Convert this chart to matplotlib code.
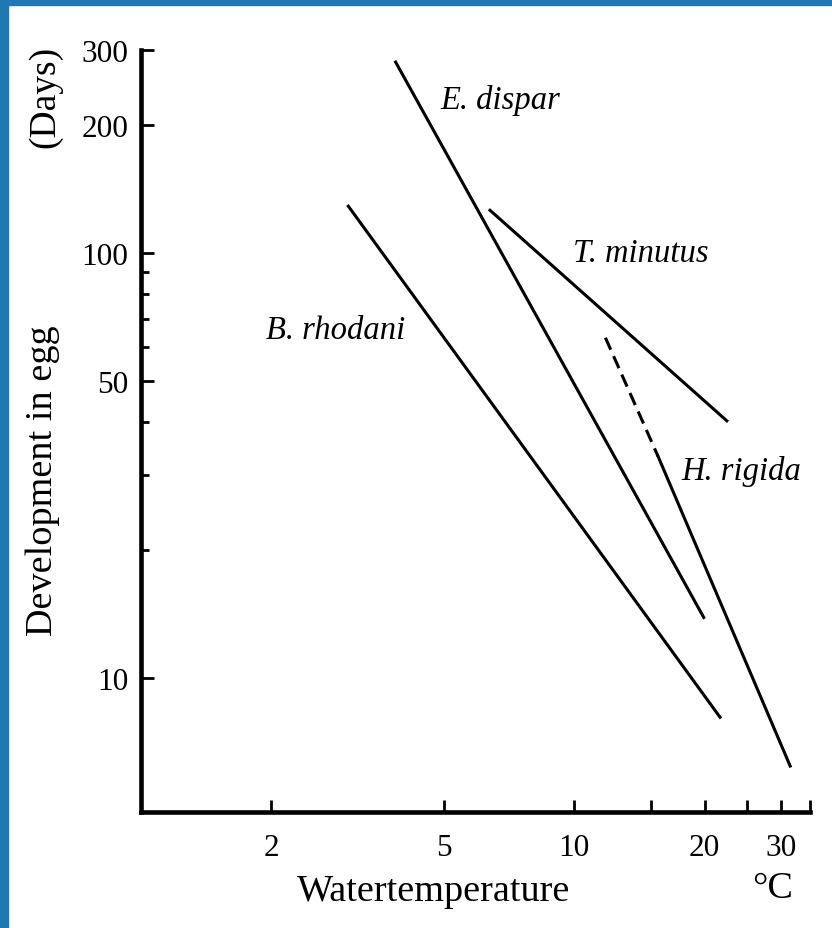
import matplotlib
matplotlib.use('Agg')
import matplotlib.pyplot as plt
from matplotlib.patches import Rectangle
from matplotlib.ticker import FixedLocator, NullFormatter

# temperature (C) / days at the line ends
e_dispar_t = [3.87, 19.9]
e_dispar_d = [281, 13.9]
b_rhodani_t = [3.01, 21.7]
b_rhodani_d = [128.8, 8.1]
t_minutus_t = [6.39, 22.5]
t_minutus_d = [126, 40.3]
h_rigida_dash_t = [11.8, 15.6]
h_rigida_dash_d = [63.2, 33.3]
h_rigida_t = [15.6, 31.5]
h_rigida_d = [33.3, 6.22]

x_ticks = [2, 5, 10, 15, 20, 25, 30, 35]
x_labels = ['2', '5', '10', '', '20', '', '30', '']
y_major = [10, 50, 100, 200, 300]
y_minor = [20, 30, 40, 60, 70, 80, 90]

# species name -> (temperature, days) where the label starts
labels = {
    'E. dispar': (4.9, 229),
    'T. minutus': (9.95, 100),
    'B. rhodani': (1.94, 66),
    'H. rigida': (17.7, 30.8),
}

SERIF = 'Liberation Serif'


def draw():
    fig = plt.figure(figsize=(8.32, 9.29), dpi=100)
    ax = fig.add_axes([141 / 832, 1 - 813 / 929, (810 - 141) / 832, (813 - 51) / 929])

    # blue frame on the left and top edge
    fig.patches.append(Rectangle((0, 0), 8 / 832, 1, transform=fig.transFigure,
                                 color='#1f77b4', zorder=10))
    fig.patches.append(Rectangle((0, 1 - 6 / 929), 1, 6 / 929, transform=fig.transFigure,
                                 color='#1f77b4', zorder=10))

    lw = 2.2
    ax.plot(e_dispar_t, e_dispar_d, 'k-', lw=lw)
    ax.plot(b_rhodani_t, b_rhodani_d, 'k-', lw=lw)
    ax.plot(t_minutus_t, t_minutus_d, 'k-', lw=lw)
    ax.plot(h_rigida_dash_t, h_rigida_dash_d, 'k', lw=lw, linestyle=(0, (4.3, 2.3)))
    ax.plot(h_rigida_t, h_rigida_d, 'k-', lw=lw)

    ax.set_xscale('log')
    ax.set_yscale('log')
    ax.set_xlim(1, 35)
    ax.set_ylim(4.85, 300)

    for s in ['top', 'right']:
        ax.spines[s].set_visible(False)
    for s in ['left', 'bottom']:
        ax.spines[s].set_linewidth(3.3)

    ax.xaxis.set_major_locator(FixedLocator(x_ticks))
    ax.xaxis.set_minor_locator(FixedLocator([]))
    ax.set_xticks(x_ticks)
    ax.set_xticklabels(x_labels, fontfamily=SERIF, fontsize=22.5)
    ax.tick_params(axis='x', which='major', direction='in', length=9, width=2, pad=15)

    ax.yaxis.set_major_locator(FixedLocator(y_major))
    ax.yaxis.set_minor_locator(FixedLocator(y_minor))
    ax.yaxis.set_minor_formatter(NullFormatter())
    ax.set_yticks(y_major)
    ax.set_yticklabels([str(v) for v in y_major], fontfamily=SERIF, fontsize=22.5)
    ax.tick_params(axis='y', which='major', direction='in', length=9, width=2, pad=9)
    ax.tick_params(axis='y', which='minor', direction='in', length=6, width=2)

    for name, (t, d) in labels.items():
        ax.text(t, d, name, fontfamily=SERIF, style='italic', fontsize=23.5,
                ha='left', va='center')

    fig.text(434 / 832, 1 - 892 / 929, 'Watertemperature', fontfamily=SERIF,
             fontsize=27.5, ha='center', va='center')
    fig.text(773 / 832, 1 - 889 / 929, '°C', fontfamily=SERIF,
             fontsize=27.5, ha='center', va='center')
    fig.text(43 / 832, 1 - 481 / 929, 'Development in egg', fontfamily=SERIF,
             fontsize=27.5, rotation=90, ha='center', va='center')
    fig.text(45 / 832, 1 - 97 / 929, '(Days)', fontfamily=SERIF,
             fontsize=27, rotation=90, ha='center', va='center')
    return fig


def main():
    fig = draw()
    fig.savefig('out.png', dpi=100)


if __name__ == '__main__':
    main()
